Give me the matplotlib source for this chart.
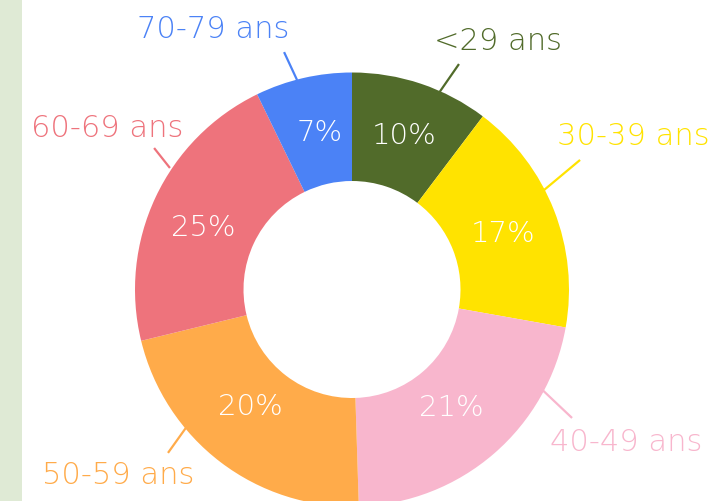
import matplotlib.pyplot as plt
from matplotlib.patches import Rectangle

# data (slice sizes as drawn; printed percentages as shown)
labels = ['<29 ans', '30-39 ans', '40-49 ans', '50-59 ans', '60-69 ans', '70-79 ans']
sizes = [10.3, 17.5, 21.7, 21.7, 21.6, 7.2]
pct_labels = ['10%', '17%', '21%', '20%', '25%', '7%']
colors = ['#516b2a', '#ffe300', '#f8b6cd', '#ffab4a', '#ee737c', '#4b82f6']

# layout: text centres and leader lines, in pie-radius units
label_xy = [(0.673, 1.141), (1.295, 0.707), (1.263, -0.703),
            (-1.078, -0.855), (-1.129, 0.744), (-0.641, 1.200)]
pct_xy = [(0.240, 0.707), (0.696, 0.256), (0.456, -0.546),
          (-0.470, -0.541), (-0.687, 0.283), (-0.147, 0.721)]
leader_lines = [((0.346, 0.827), (0.493, 1.039)),
                ((0.857, 0.435), (1.051, 0.597)),
                ((0.829, -0.417), (1.014, -0.592)),
                ((-0.700, -0.546), (-0.848, -0.753)),
                ((-0.839, 0.560), (-0.912, 0.652)),
                ((-0.253, 0.965), (-0.313, 1.094))]

W, H, dpi = 713, 501, 100
cx, cy, rad = 352, 289.5, 217  # pixels

fig = plt.figure(figsize=(W / dpi, H / dpi), dpi=dpi)
fig.add_artist(Rectangle((0, 0), 22 / W, 1, transform=fig.transFigure,
                         facecolor='#dfead5', edgecolor='none', zorder=0))
ax = fig.add_axes([0, 0, 1, 1])
ax.patch.set_alpha(0)

ax.pie(sizes, colors=colors, startangle=90, counterclock=False,
       wedgeprops=dict(width=0.5, linewidth=0))

font = dict(family='DejaVu Sans', fontweight='light', ha='center', va='center')
for txt, (px, py) in zip(pct_labels, pct_xy):
    ax.text(px, py, txt, color='white', fontsize=21, **font)

for lab, col, (tx, ty), (p0, p1) in zip(labels, colors, label_xy, leader_lines):
    ax.plot([p0[0], p1[0]], [p0[1], p1[1]], color=col, lw=1.6,
            solid_capstyle='butt', zorder=3)
    ax.text(tx, ty, lab, color=col, fontsize=22, **font)

ax.set_xlim(-cx / rad, (W - cx) / rad)
ax.set_ylim((cy - H) / rad, cy / rad)
ax.set_aspect('equal', adjustable='box')
ax.axis('off')

fig.savefig('out.png', dpi=dpi)
